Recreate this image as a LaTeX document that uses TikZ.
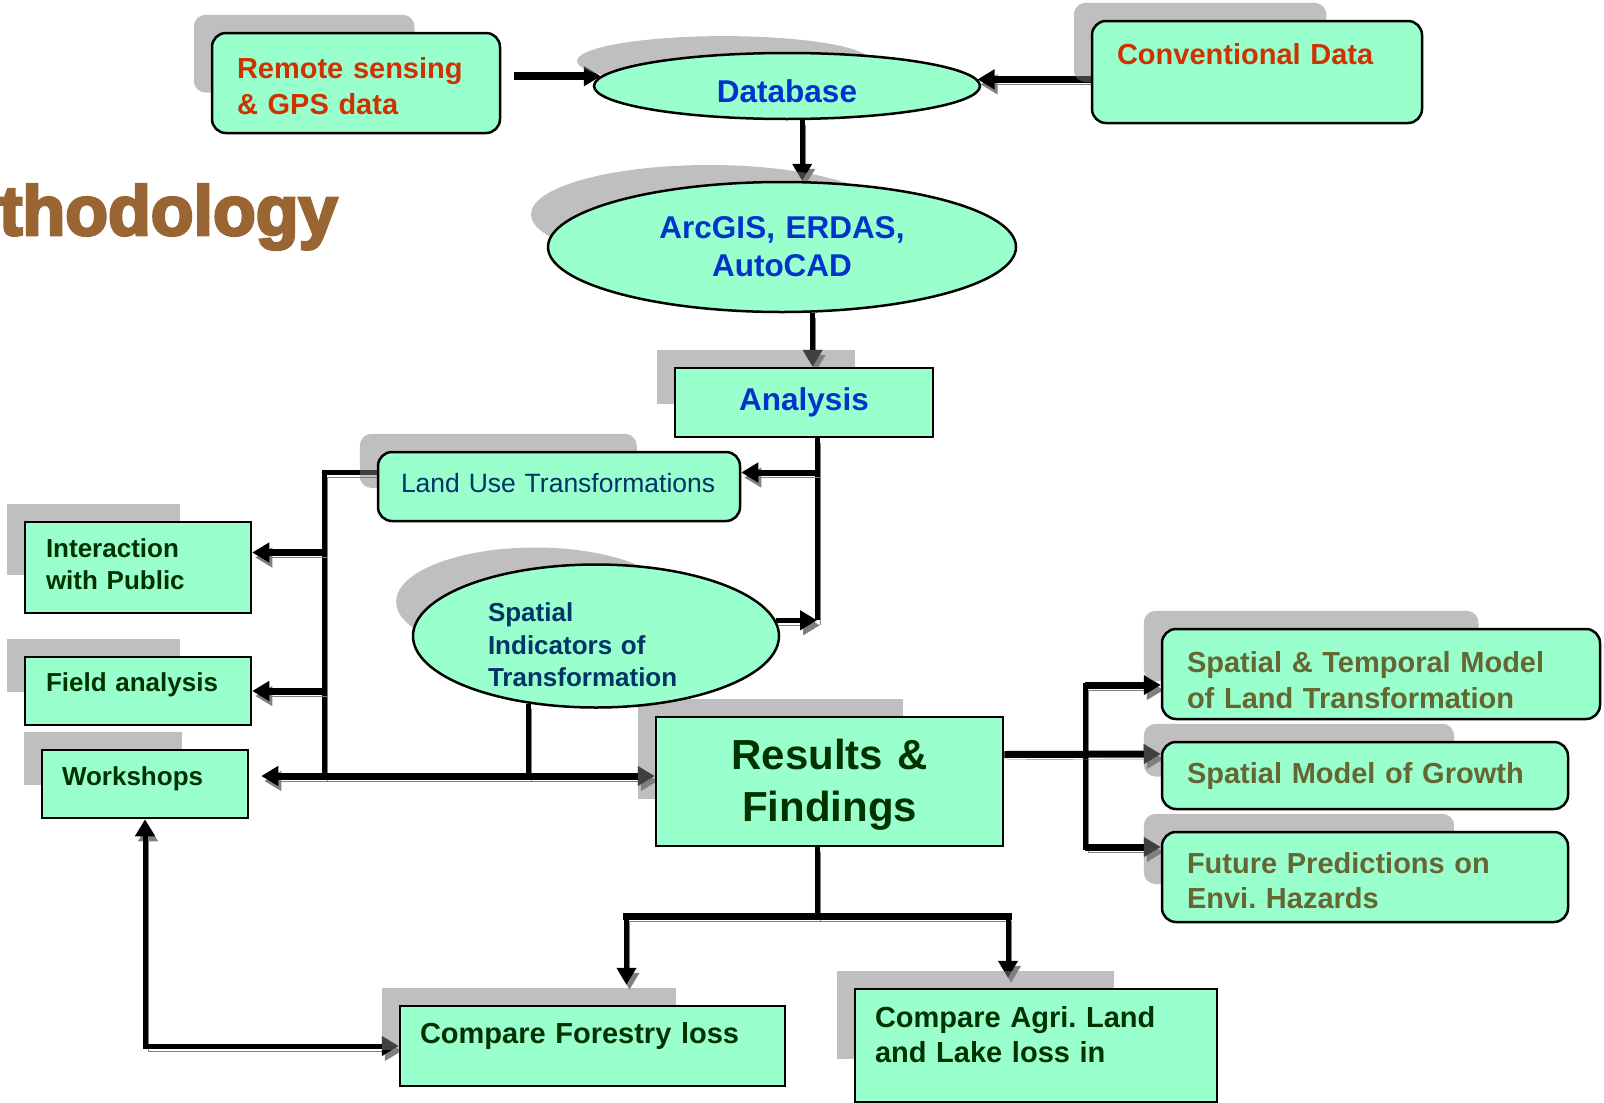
\documentclass[tikz,border=0pt]{standalone}
\usepackage{fontspec}
\setmainfont{Liberation Sans}
\newfontfamily\titlefont{Liberation Sans}[BoldFeatures={FakeBold=4}]
\usetikzlibrary{arrows.meta,shapes.geometric,calc}
\definecolor{mint}{RGB}{153,255,204}
\definecolor{srcred}{RGB}{204,51,0}
\definecolor{toolblue}{RGB}{0,51,204}
\definecolor{navy}{RGB}{0,51,102}
\definecolor{deepgreen}{RGB}{0,51,0}
\definecolor{olive}{RGB}{102,102,51}
\definecolor{methbrown}{RGB}{153,102,51}
\definecolor{linegray}{RGB}{128,128,128}
\pgfdeclarelayer{lines}
\pgfdeclarelayer{drop}
\pgfsetlayers{lines,drop,main}
\tikzset{
  >={Triangle[length=17pt,width=19pt]},
  box/.style={draw,line width=2.5pt,fill=mint,inner ysep=0pt,align=left},
  rbox/.style={box,rounded corners=14pt},
  oval/.style={ellipse,draw,line width=2.5pt,fill=mint,inner sep=0pt,align=center},
  srcbox/.style={rbox,text=srcred,inner xsep=25pt,font=\bfseries\fontsize{29}{36}\selectfont},
  toolnode/.style={oval,text=toolblue,font=\bfseries\fontsize{31.5}{38}\selectfont},
  taskbox/.style={box,text=deepgreen,inner xsep=21pt,font=\bfseries\fontsize{26}{32}\selectfont},
  outbox/.style={rbox,text=olive,inner xsep=25pt,font=\bfseries\fontsize{29}{36}\selectfont},
  cmpbox/.style={box,text=deepgreen,inner xsep=20pt,font=\bfseries\fontsize{29}{35}\selectfont},
  dropfill/.style={fill=linegray,fill opacity=0.5},
  lshadow/.style={preaction={draw=linegray,transform canvas={shift={(3pt,-5pt)}}}},
  bare/.style={line width=5pt,lshadow},
  conn/.style={bare,->},
  wide/.style={line width=7pt}
}
\newcommand{\boxdrop}[2][]{\fill[dropfill,#1] ($(#2.north west)+(-17,-17)$) rectangle ($(#2.north west)!0.76!(#2.south east)+(-17,-17)$);}

\begin{document}
\frenchspacing
\begin{tikzpicture}[x=1pt,y=-1pt]
\useasboundingbox (0,0) rectangle (1604,1103);

\node[anchor=base west,inner sep=0pt,text=methbrown,font=\titlefont\bfseries\fontsize{70}{70}\selectfont] (title) at (-1,235) {thodology};

% sources and tools
\node[srcbox,minimum width=288pt,minimum height=100pt,text width=238pt,text height=28pt] (remote) at (356,83) {Remote sensing\\\& GPS data};
\node[srcbox,minimum width=330pt,minimum height=102pt,text width=280pt,text depth=37pt] (conv) at (1257,72) {Conventional Data};
\node[toolnode,minimum width=386pt,minimum height=66pt,text height=34pt] (database) at (787,86) {Database};
\node[toolnode,minimum width=468pt,minimum height=130pt,text width=300pt] (arcgis) at (782,247) {ArcGIS, ERDAS,\\AutoCAD};
\node[box,align=center,text=toolblue,font=\bfseries\fontsize{31.5}{38}\selectfont,minimum width=258pt,minimum height=69pt] (analysis) at (804,402.5) {Analysis};

% middle
\node[rbox,text=navy,inner xsep=23pt,font=\fontsize{26.5}{32}\selectfont,minimum width=362pt,minimum height=69pt,text width=316pt,text depth=8pt] (landuse) at (559,486.5) {Land Use Transformations};
\node[oval,align=left,text=navy,font=\bfseries\fontsize{26}{32.5}\selectfont,minimum width=366pt,minimum height=143pt,text width=216pt,text depth=47pt] (spatial) at (596,636) {Spatial\\Indicators of\\Transformation};
\node[taskbox,minimum width=226pt,minimum height=91pt,text width=184pt,text depth=38pt] (interact) at (138,567.5) {Interaction\\with Public};
\node[taskbox,minimum width=226pt,minimum height=68pt,text width=184pt,text depth=17pt] (field) at (138,691) {Field analysis};
\node[taskbox,inner xsep=20pt,minimum width=206pt,minimum height=68pt,text width=166pt,text depth=15pt] (workshops) at (145,784) {Workshops};
\node[box,align=center,text=deepgreen,inner xsep=23.5pt,font=\bfseries\fontsize{42}{52}\selectfont,minimum width=347pt,minimum height=129pt,text width=300pt,text height=36pt] (results) at (829.5,781.5) {Results \&\\Findings};

% outputs
\node[outbox,minimum width=438pt,minimum height=90pt,text width=388pt,text depth=25pt] (spatemp) at (1381,674) {Spatial \& Temporal Model\\of Land Transformation};
\node[outbox,minimum width=406pt,minimum height=67pt,text width=356pt] (growth) at (1365,775.5) {Spatial Model of Growth};
\node[outbox,font=\bfseries\fontsize{29}{35}\selectfont,minimum width=406pt,minimum height=90pt,text width=356pt,text depth=29pt] (future) at (1365,877) {Future Predictions on\\Envi. Hazards};
\node[cmpbox,minimum width=385pt,minimum height=80pt,text width=345pt,text depth=27pt] (forestry) at (592.5,1046) {Compare Forestry loss};
\node[cmpbox,minimum width=362pt,minimum height=113pt,text width=322pt,text depth=58pt] (agri) at (1036,1045.5) {Compare Agri. Land\\and Lake loss in};

% drop shadows
\begin{pgfonlayer}{drop}
  \boxdrop[rounded corners=12pt]{remote}
  \boxdrop[rounded corners=12pt]{conv}
  \boxdrop[rounded corners=12pt]{landuse}
  \boxdrop[rounded corners=12pt]{spatemp}
  \boxdrop[rounded corners=12pt]{growth}
  \boxdrop[rounded corners=12pt]{future}
  \boxdrop{analysis}
  \boxdrop{interact}
  \boxdrop{field}
  \boxdrop{workshops}
  \boxdrop{results}
  \boxdrop{forestry}
  \boxdrop{agri}
  \fill[dropfill] (723.7,61.1) ellipse (146.7 and 25);
  \fill[dropfill] (708.8,214.4) ellipse (177.8 and 49.4);
  \fill[dropfill] (535.1,601.8) ellipse (139 and 54.3);
\end{pgfonlayer}

% connectors
\begin{pgfonlayer}{lines}
  \draw[line width=8pt,->] ($(remote.east |- database.177)+(13,0)$) -- (database.177);
  \draw[conn,wide] (conv.west |- database.2) -- (database.2);
  \draw[conn] (database.-66) -- (database.-66 |- arcgis.north);
  \draw[conn] (arcgis.-65) -- (arcgis.-65 |- analysis.north);

  \coordinate (av) at ($(analysis.south)+(13,0)$);
  \coordinate (ta) at (av |- spatial.5);
  \coordinate (lu) at ($(landuse.east)+(0,-14)$);
  \draw[bare] (av) -- (ta);
  \draw[conn,line width=6pt] (av |- lu) -- (lu);
  \draw[conn] (spatial.5) -- (ta);

  \coordinate (lbot) at (324,776);
  \coordinate (ia) at ($(interact.east)+(0,-15)$);
  \draw[bare] ($(landuse.west)+(0,-14)$) -| (lbot);
  \draw[conn,wide] (lbot |- ia) -- (ia);
  \draw[conn,wide] (lbot |- field.east) -- (field.east);
  \draw[bare] (spatial.-135) -- (spatial.-135 |- lbot);
  \draw[conn,wide,<->] ($(workshops.east |- lbot)+(12,0)$) -- (results.west |- lbot);

  \coordinate (rb) at (1085,754);
  \coordinate (s1) at ($(spatemp.west)+(0,11)$);
  \coordinate (s3) at ($(future.west)+(0,-30)$);
  \draw[bare,line cap=rect] (rb |- s1) -- (rb |- s3);
  \draw[conn,wide] ($(results.east)+(0,-27)$) -- (growth.west |- rb);
  \draw[conn,wide] (rb |- s1) -- (s1);
  \draw[conn,wide] (rb |- s3) -- (s3);

  \coordinate (fd) at ($(forestry.north)+(34,-20)$);
  \coordinate (ad) at ($(agri.north)+(-28,-10)$);
  \coordinate (rd) at ($(results.south)+(-12,69)$);
  \draw[bare] ($(results.south)+(-12,0)$) -- (rd);
  \draw[bare,wide,line cap=rect] (rd -| fd) -- (rd -| ad);
  \draw[conn] (rd -| fd) -- (fd);
  \draw[conn] (rd -| ad) -- (ad);

  \draw[conn,<->] (workshops.south) |- (forestry.west);
\end{pgfonlayer}
\end{tikzpicture}
\end{document}
